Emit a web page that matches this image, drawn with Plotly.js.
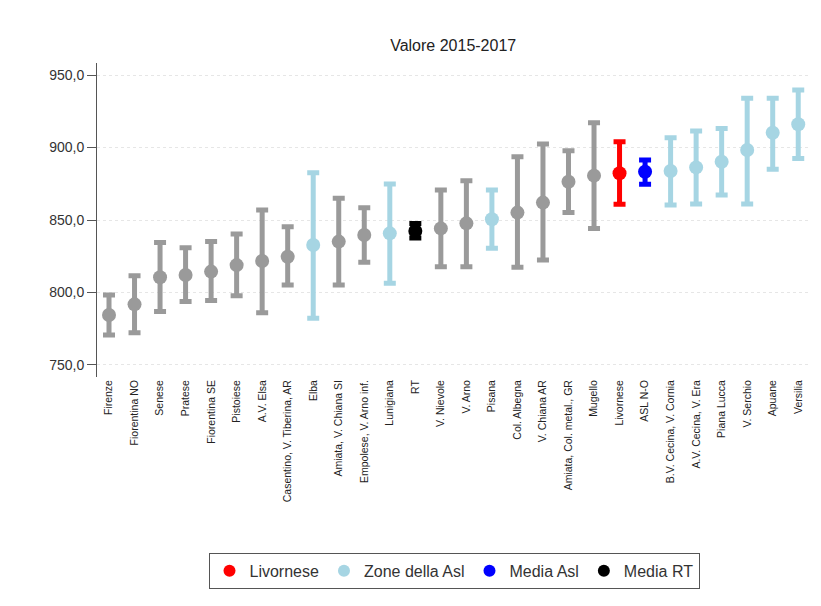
<!DOCTYPE html>
<html><head><meta charset="utf-8">
<script src="https://cdn.plot.ly/plotly-3.0.1.min.js"></script>
<style>html,body{margin:0;padding:0;background:#fff}#chart{width:821px;height:606px}</style>
</head><body><div id="chart"></div>
<script>
const categories = ["Firenze","Fiorentina NO","Senese","Pratese","Fiorentina SE","Pistoiese","A.V. Elsa","Casentino, V. Tiberina, AR","Elba","Amiata, V. Chiana SI","Empolese, V. Arno inf.","Lunigiana","RT","V. Nievole","V. Arno","Pisana","Col. Albegna","V. Chiana AR","Amiata, Col. metal., GR","Mugello","Livornese","ASL N-O","B.V. Cecina, V. Cornia","A.V. Cecina, V. Era","Piana Lucca","V. Serchio","Apuane","Versilia"];
const values = [784.5,791.8,810.5,812.1,814.4,818.9,821.7,824.7,832.8,835.1,839.7,840.8,842.4,844.2,847.7,850.5,855.1,862.0,876.4,880.6,882.2,883.3,883.8,886.3,890.2,898.3,910.2,916.0];
const lower = [770.7,772.3,786.8,793.7,794.4,797.8,786.1,805.2,782.2,805.2,820.8,806.3,837.5,817.8,817.8,830.5,817.4,822.4,855.1,844.2,860.8,874.6,860.3,861.0,867.2,861.0,885.0,892.5];
const upper = [798.3,811.6,834.4,830.9,835.1,840.3,856.9,845.4,882.6,865.0,858.5,874.8,847.5,870.7,877.1,870.7,893.7,902.4,897.8,917.1,904.0,891.4,906.8,911.4,913.2,933.9,933.9,939.7];
const groups = ["altre","altre","altre","altre","altre","altre","altre","altre","zone","altre","altre","zone","rt","altre","altre","zone","altre","altre","altre","altre","liv","asl","zone","zone","zone","zone","zone","zone"];

const groupDefs = [
  {key:"liv", name:"Livornese", color:"#ff0000", legend:true},
  {key:"zone", name:"Zone della Asl", color:"#a6d5e3", legend:true},
  {key:"asl", name:"Media Asl", color:"#0000ff", legend:true},
  {key:"rt", name:"Media RT", color:"#000000", legend:true},
  {key:"altre", name:"Altre zone", color:"#9a9a9a", legend:false}
];

const traces = [];
groupDefs.forEach(g => {
  const x=[], y=[], ep=[], em=[];
  categories.forEach((c,i) => {
    if (groups[i]===g.key) { x.push(c); y.push(values[i]); ep.push(upper[i]-values[i]); em.push(values[i]-lower[i]); }
  });
  traces.push({
    type:"scatter", mode:"markers", x:x, y:y, name:g.name, showlegend:g.legend,
    marker:{color:g.color, size:14, symbol:"circle"},
    error_y:{type:"data", symmetric:false, array:ep, arrayminus:em, color:g.color, thickness:5, width:6},
    hoverinfo:"x+y"
  });
});

const layout = {
  width:821, height:606,
  margin:{l:97, r:10, t:63, b:229},
  paper_bgcolor:"#fff", plot_bgcolor:"#fff",
  separators:",.",
  font:{family:"Liberation Sans, Arial, sans-serif", color:"#333", size:11},
  title:{text:"Valore 2015-2017", font:{size:16, color:"#222"}, x:0.552, xanchor:"center", y:0.925, yanchor:"middle"},
  xaxis:{type:"category", categoryorder:"array", categoryarray:categories, range:[-0.47,27.5],
    tickangle:-90, showgrid:false, zeroline:false, showline:false, ticks:"", tickfont:{size:10.5, color:"#222"}},
  yaxis:{range:[741.7,958.3], tickvals:[750,800,850,900,950], tickformat:".1f",
    showline:true, linecolor:"#555", linewidth:1, ticks:"outside", ticklen:9, tickcolor:"#555",
    showgrid:true, gridcolor:"#e6e6e6", griddash:"dot", zeroline:false, tickfont:{size:14, color:"#333"}},
  showlegend:true,
  legend:{orientation:"h", x:0.5, xanchor:"center", y:-0.56, yanchor:"top",
    bordercolor:"#555", borderwidth:1, font:{size:16, color:"#333"}, itemsizing:"constant",
    traceorder:"normal", itemwidth:30}
};

Plotly.newPlot("chart", traces, layout, {displayModeBar:false, staticPlot:true});
</script></body></html>
